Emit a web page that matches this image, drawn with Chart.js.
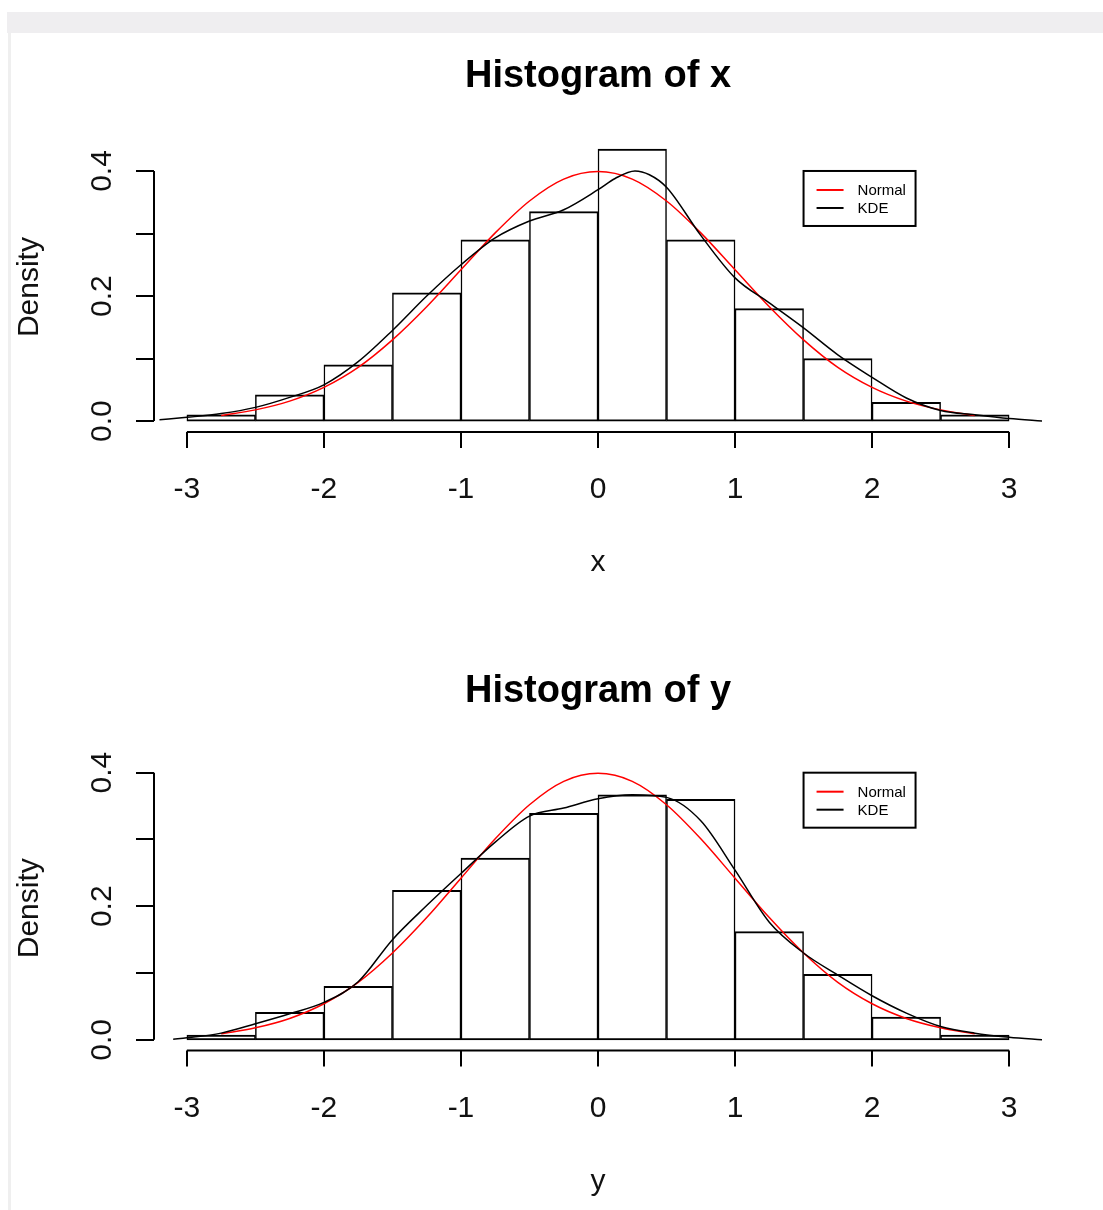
<!DOCTYPE html>
<html>
<head>
<meta charset="utf-8">
<title>Histogram of x / Histogram of y</title>
<script src="https://cdn.jsdelivr.net/npm/chart.js@4.4.1/dist/chart.umd.min.js"></script>
<style>
  html, body { margin: 0; padding: 0; background: #fff; }
  #page { position: relative; width: 1103px; height: 1210px; overflow: hidden; }
  #topbar { position: absolute; left: 7px; top: 12px; right: 0; height: 21px; background: #efeef0; }
  #leftbar { position: absolute; left: 8px; top: 33px; bottom: 0; width: 3px; background: #efefef; }
  canvas { position: absolute; left: 0; }
  #chartX { top: 0; }
  #chartY { top: 605px; }
</style>
</head>
<body>
<div id="page">
  <div id="topbar"></div>
  <div id="leftbar"></div>
  <canvas id="chartX" width="1103" height="605"></canvas>
  <canvas id="chartY" width="1103" height="605"></canvas>
</div>
<script>
// histogram bins (mid points, width 0.5)
const binMids = [-2.75, -2.25, -1.75, -1.25, -0.75, -0.25, 0.25, 0.75, 1.25, 1.75, 2.25, 2.75];
const densX = [0.010, 0.042, 0.090, 0.205, 0.290, 0.335, 0.435, 0.290, 0.180, 0.100, 0.030, 0.010];
const densY = [0.007, 0.041, 0.080, 0.224, 0.272, 0.339, 0.367, 0.360, 0.162, 0.098, 0.034, 0.007];

// red "Normal" curve
const normGrid = [-2.75, -2.5, -2.25, -2, -1.75, -1.5, -1.25, -1, -0.75, -0.5, -0.25, 0,
                  0.25, 0.5, 0.75, 1, 1.25, 1.5, 1.75, 2, 2.25, 2.5, 2.75];
const normVals = [0.009, 0.018, 0.032, 0.054, 0.086, 0.130, 0.183, 0.242, 0.301, 0.352, 0.387, 0.399,
                  0.387, 0.352, 0.301, 0.242, 0.183, 0.130, 0.086, 0.054, 0.032, 0.018, 0.009];

// black KDE curves
const kdeGridX = [-3.2, -3, -2.75, -2.5, -2.25, -2, -1.75, -1.5, -1.25, -1, -0.75, -0.5, -0.25, 0,
                  0.125, 0.27, 0.375, 0.5, 0.75, 1, 1.25, 1.5, 1.75, 2, 2.25, 2.5, 2.75, 3, 3.25];
const kdeValsX = [0.002, 0.006, 0.012, 0.022, 0.038, 0.058, 0.095, 0.145, 0.200, 0.250, 0.293, 0.320, 0.338, 0.370,
                  0.388, 0.400, 0.394, 0.374, 0.297, 0.229, 0.189, 0.149, 0.106, 0.070, 0.037, 0.017, 0.010, 0.004, 0.000];
const kdeGridY = [-3.1, -3, -2.75, -2.5, -2.25, -2, -1.75, -1.5, -1.25, -1, -0.75, -0.5, -0.25, 0,
                  0.25, 0.5, 0.75, 1, 1.25, 1.5, 1.75, 2, 2.25, 2.5, 2.75, 3, 3.25];
const kdeValsY = [0.001, 0.003, 0.010, 0.024, 0.039, 0.056, 0.087, 0.150, 0.201, 0.249, 0.296, 0.335, 0.347, 0.361,
                  0.367, 0.363, 0.328, 0.254, 0.176, 0.130, 0.097, 0.066, 0.040, 0.020, 0.010, 0.004, 0.000];

// axes
const xTicks = [-3, -2, -1, 0, 1, 2, 3];
const yTicks = [0, 0.1, 0.2, 0.3, 0.4];
const yTickLabels = ['0.0', '', '0.2', '', '0.4'];
const legendLabels = ['Normal', 'KDE'];
const legendColors = ['#ff0000', '#000000'];
const legendAt = [1.5, 0.4];

const FONT = '"Liberation Sans", Arial, sans-serif';

function pts(xs, ys) {
  return xs.map((v, i) => ({ x: v, y: ys[i] }));
}

// R style base graphics axes + legend
const rAxes = {
  id: 'rAxes',
  afterDatasetsDraw(chart, args, opts) {
    const { ctx, chartArea: a } = chart;
    const x = chart.scales.x, y = chart.scales.y;
    ctx.save();
    ctx.strokeStyle = '#000';
    ctx.lineWidth = 2;
    ctx.beginPath();
    const xa = x.getPixelForValue(xTicks[0]), xb = x.getPixelForValue(xTicks[xTicks.length - 1]);
    ctx.moveTo(xa, a.bottom); ctx.lineTo(xb, a.bottom);
    xTicks.forEach(v => {
      const px = Math.round(x.getPixelForValue(v));
      ctx.moveTo(px, a.bottom); ctx.lineTo(px, a.bottom + 16);
    });
    const ya = y.getPixelForValue(yTicks[0]), yb = y.getPixelForValue(yTicks[yTicks.length - 1]);
    ctx.moveTo(a.left, ya); ctx.lineTo(a.left, yb);
    yTicks.forEach(v => {
      const py = Math.round(y.getPixelForValue(v));
      ctx.moveTo(a.left, py); ctx.lineTo(a.left - 18, py);
    });
    ctx.stroke();

    ctx.fillStyle = '#111';
    ctx.font = '30px ' + FONT;
    ctx.textAlign = 'center';
    ctx.textBaseline = 'middle';
    xTicks.forEach(v => ctx.fillText(String(v), x.getPixelForValue(v), a.bottom + 58));
    yTicks.forEach((v, i) => {
      if (!yTickLabels[i]) return;
      ctx.save();
      ctx.translate(a.left - 51, y.getPixelForValue(v));
      ctx.rotate(-Math.PI / 2);
      ctx.fillText(yTickLabels[i], 0, 0);
      ctx.restore();
    });
    // axis titles
    ctx.fillText(opts.xTitle, (a.left + a.right) / 2, a.bottom + 131);
    ctx.save();
    ctx.translate(30, (a.top + a.bottom) / 2 + 2);
    ctx.rotate(-Math.PI / 2);
    ctx.fillText('Density', 0, 0);
    ctx.restore();

    // legend box
    const lx = x.getPixelForValue(legendAt[0]), ly = y.getPixelForValue(legendAt[1]);
    ctx.strokeRect(lx, ly, 112, 55);
    ctx.font = '15px ' + FONT;
    ctx.textAlign = 'left';
    legendLabels.forEach((lab, i) => {
      const yy = ly + 19 + i * 18;
      ctx.strokeStyle = legendColors[i];
      ctx.lineWidth = 2;
      ctx.beginPath(); ctx.moveTo(lx + 13, yy); ctx.lineTo(lx + 40, yy); ctx.stroke();
      ctx.fillStyle = '#000';
      ctx.fillText(lab, lx + 54, yy + 1);
    });
    ctx.restore();
  }
};

function makeHist(id, dens, kdeX, kdeY, title, xTitle, pad) {
  return new Chart(document.getElementById(id), {
    data: {
      datasets: [
        {
          type: 'line', label: legendLabels[0], data: pts(normGrid, normVals), order: 2,
          borderColor: legendColors[0], borderWidth: 1.5, pointRadius: 0, cubicInterpolationMode: 'monotone'
        },
        {
          type: 'line', label: legendLabels[1], data: pts(kdeX, kdeY), order: 1,
          borderColor: legendColors[1], borderWidth: 1.5, pointRadius: 0, cubicInterpolationMode: 'monotone'
        },
        {
          type: 'bar', label: xTitle, data: pts(binMids, dens), order: 3,
          backgroundColor: '#fff', borderColor: '#000',
          borderWidth: { top: 2, left: 1.5, right: 1.5, bottom: 2 }, borderSkipped: false,
          barPercentage: 1, categoryPercentage: 1
        }
      ]
    },
    options: {
      responsive: false,
      animation: false,
      events: [],
      layout: { padding: { left: 154, right: 61, top: 0, bottom: pad.bottom } },
      scales: {
        x: { type: 'linear', min: -3.24, max: 3.24, offset: false, display: false },
        y: { type: 'linear', min: pad.yMin, max: pad.yMax, display: false }
      },
      plugins: {
        legend: { display: false },
        tooltip: { enabled: false },
        title: {
          display: true, text: title, fullSize: false, color: '#000',
          font: { family: FONT, size: 38, weight: 'bold', lineHeight: 1.2 },
          padding: { top: pad.titleTop, bottom: pad.titleBottom }
        },
        rAxes: { xTitle: xTitle }
      }
    },
    plugins: [rAxes]
  });
}

makeHist('chartX', densX, kdeGridX, kdeValsX, 'Histogram of x', 'x',
  { titleTop: 54, titleBottom: 38.6, bottom: 173, yMin: -0.0174, yMax: 0.4524 });
makeHist('chartY', densY, kdeGridY, kdeValsY, 'Histogram of y', 'y',
  { titleTop: 64, titleBottom: 47.4, bottom: 159.5, yMin: -0.016, yMax: 0.416 });
</script>
</body>
</html>
